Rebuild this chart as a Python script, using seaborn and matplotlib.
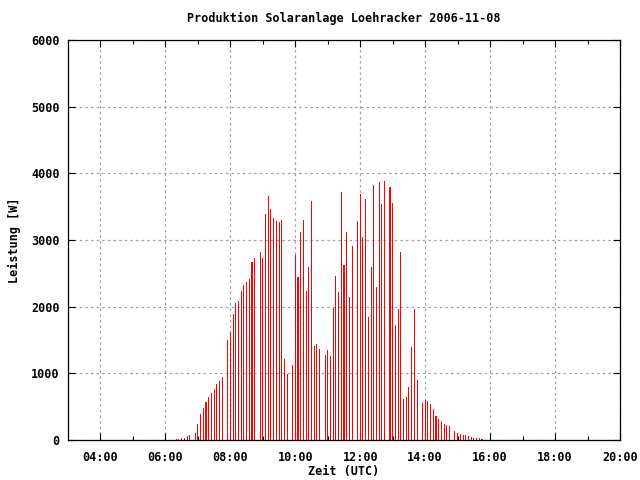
import matplotlib
matplotlib.use("Agg")
import matplotlib.pyplot as plt
import matplotlib.ticker as mticker
import seaborn as sns
import pandas as pd

times = ["06:20", "06:25", "06:30", "06:35", "06:40", "06:45", "06:55",
         "07:00", "07:05", "07:10", "07:15", "07:20", "07:25", "07:30", "07:35", "07:40", "07:45", "07:55",
         "08:00", "08:05", "08:10", "08:15", "08:20", "08:25", "08:30", "08:35", "08:40", "08:45", "08:55",
         "09:00", "09:05", "09:10", "09:15", "09:20", "09:25", "09:30", "09:35", "09:40", "09:45", "09:55",
         "10:00", "10:05", "10:10", "10:15", "10:20", "10:25", "10:30", "10:35", "10:40", "10:45", "10:55",
         "11:00", "11:05", "11:10", "11:15", "11:20", "11:25", "11:30", "11:35", "11:40", "11:45", "11:55",
         "12:00", "12:05", "12:10", "12:15", "12:20", "12:25", "12:30", "12:35", "12:40", "12:45", "12:55",
         "13:00", "13:05", "13:10", "13:15", "13:20", "13:25", "13:30", "13:35", "13:40", "13:45", "13:55",
         "14:00", "14:05", "14:10", "14:15", "14:20", "14:25", "14:30", "14:35", "14:40", "14:45", "14:55",
         "15:00", "15:05", "15:10", "15:15", "15:20", "15:25", "15:30", "15:35", "15:40", "15:45"]

power = [15, 15, 30, 30, 60, 75, 105,
         240, 390, 480, 570, 645, 705, 765, 840, 885, 945, 1500,
         1620, 1890, 2055, 2085, 2235, 2325, 2370, 2415, 2670, 2730, 2820,
         2730, 3390, 3660, 3465, 3330, 3285, 3270, 3300, 1215, 990, 1125,
         2775, 2445, 3120, 3300, 2235, 2595, 3585, 1410, 1440, 1365, 1275,
         1350, 1260, 1980, 2460, 2220, 3720, 2625, 3120, 2145, 2910, 3285,
         3690, 3045, 3615, 1845, 2595, 3825, 2295, 3870, 3540, 3885, 3795,
         3555, 1725, 1965, 2820, 615, 645, 795, 1395, 1965, 900, 555,
         600, 585, 540, 465, 360, 315, 285, 240, 225, 210, 135,
         105, 90, 75, 75, 60, 45, 30, 30, 30, 15]

x_ticks = [4, 6, 8, 10, 12, 14, 16, 18, 20]
y_ticks = [0, 1000, 2000, 3000, 4000, 5000, 6000]

hours = [int(t[:2]) + int(t[3:]) / 60 for t in times]
df = pd.DataFrame({"hour": hours, "power": power})

font = "DejaVu Sans Mono"
plt.rcParams["font.family"] = font
plt.rcParams["font.weight"] = "bold"

fig = plt.figure(figsize=(6.4, 4.8), dpi=100)
ax = fig.add_axes([68 / 640, 40 / 480, 552 / 640, 400 / 480])

sns.barplot(data=df, x="hour", y="power", native_scale=True, color="#ff0000",
            width=0.38, errorbar=None, linewidth=0, saturation=1,
            antialiased=False, ax=ax)

ax.set_xlim(3, 20)
ax.set_ylim(0, 6000)
ax.xaxis.set_major_locator(mticker.FixedLocator(x_ticks))
ax.xaxis.set_minor_locator(mticker.FixedLocator([5, 7, 9, 11, 13, 15, 17, 19]))
ax.xaxis.set_major_formatter(mticker.FuncFormatter(lambda v, p: f"{int(v):02d}:00"))
ax.yaxis.set_major_locator(mticker.FixedLocator(y_ticks))
ax.yaxis.set_major_formatter(mticker.FuncFormatter(lambda v, p: f"{int(v)}"))

ax.grid(True, which="major", color="#a0a0a0", linestyle=(0, (2, 2.5)), linewidth=0.9)
ax.set_axisbelow(True)

ax.tick_params(axis="both", which="major", direction="in", length=5, width=0.8,
               top=True, right=True, labelsize=8.5, colors="black")
ax.tick_params(axis="x", which="minor", direction="in", length=3, width=0.8, top=True)
ax.tick_params(axis="x", which="major", pad=8)
ax.tick_params(axis="y", which="major", pad=6)
for s in ax.spines.values():
    s.set_color("black")
    s.set_linewidth(0.9)

ax.set_xlabel("")
ax.set_ylabel("")
fig.text(344 / 640, 1 - 472 / 480, "Zeit (UTC)", ha="center", va="center",
         fontsize=8.5, fontweight="bold")
fig.text(14 / 640, 1 - 240 / 480, "Leistung [W]", ha="center", va="center",
         rotation=90, fontsize=8.5, fontweight="bold")
fig.text(344 / 640, 1 - 18 / 480, "Produktion Solaranlage Loehracker 2006-11-08",
         ha="center", va="center", fontsize=8.5, fontweight="bold")

fig.savefig("out.png", dpi=100)
